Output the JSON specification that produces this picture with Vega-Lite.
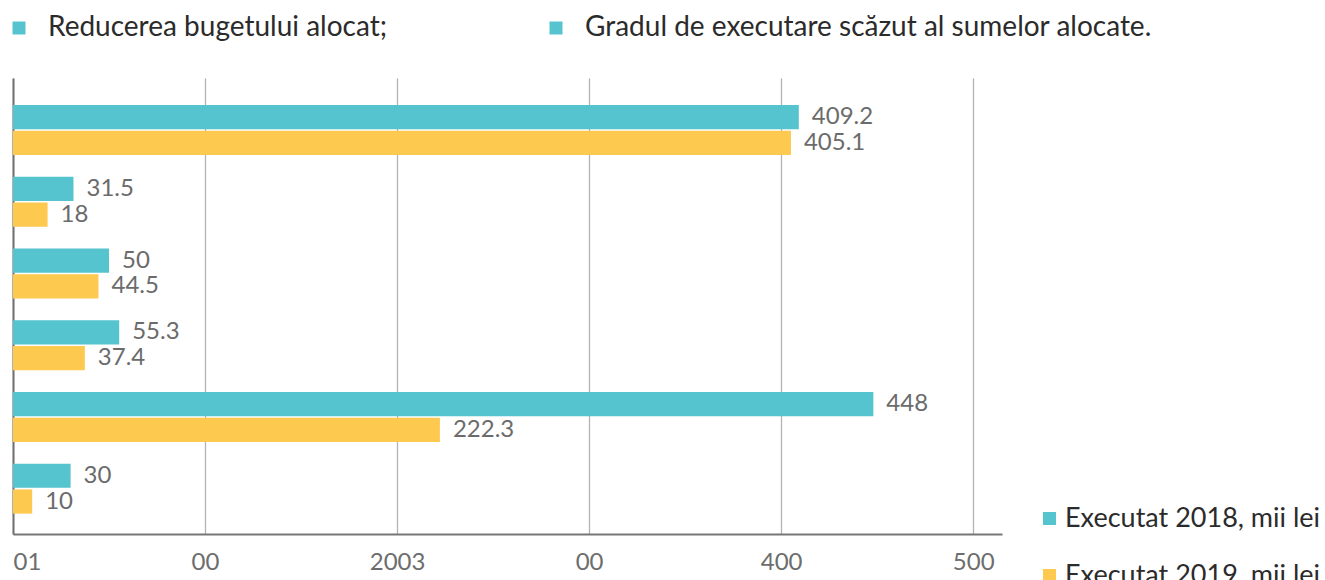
{
  "$schema": "https://vega.github.io/schema/vega-lite/v6.json",
  "width": 989,
  "height": 456,
  "autosize": {"type": "none"},
  "padding": {"left": 13, "top": 78, "right": 323, "bottom": 46},
  "background": "#ffffff",
  "config": {"view": {"stroke": null}, "font": "Lato", "text": {"font": "Lato"}, "legend": {"padding": 0}},
  "datasets": {
    "bare": [
      {"grup": "1", "serie": "Executat 2018, mii lei", "valoare": 409.2},
      {"grup": "1", "serie": "Executat 2019, mii lei", "valoare": 405.1},
      {"grup": "2", "serie": "Executat 2018, mii lei", "valoare": 31.5},
      {"grup": "2", "serie": "Executat 2019, mii lei", "valoare": 18},
      {"grup": "3", "serie": "Executat 2018, mii lei", "valoare": 50},
      {"grup": "3", "serie": "Executat 2019, mii lei", "valoare": 44.5},
      {"grup": "4", "serie": "Executat 2018, mii lei", "valoare": 55.3},
      {"grup": "4", "serie": "Executat 2019, mii lei", "valoare": 37.4},
      {"grup": "5", "serie": "Executat 2018, mii lei", "valoare": 448},
      {"grup": "5", "serie": "Executat 2019, mii lei", "valoare": 222.3},
      {"grup": "6", "serie": "Executat 2018, mii lei", "valoare": 30},
      {"grup": "6", "serie": "Executat 2019, mii lei", "valoare": 10}
    ],
    "note": [
      {"nota": "Reducerea bugetului alocat;"},
      {"nota": "Gradul de executare scăzut al sumelor alocate."}
    ]
  },
  "layer": [
    {
      "data": {"name": "bare"},
      "mark": {"type": "bar"},
      "encoding": {
        "y": {
          "field": "grup", "type": "nominal", "sort": null,
          "scale": {"paddingInner": 0.303, "paddingOuter": 0.33, "align": 0.57},
          "axis": {"labels": false, "ticks": false, "title": null, "grid": false, "domainColor": "#707070", "domainWidth": 2}
        },
        "yOffset": {"field": "serie", "type": "nominal", "sort": null, "scale": {"paddingInner": 0.06}},
        "x": {
          "field": "valoare", "type": "quantitative",
          "scale": {"domain": [0, 515], "nice": false},
          "axis": {
            "values": [0, 100, 200, 300, 400, 500],
            "labelExpr": "datum.value == 0 ? '01' : datum.value == 100 ? '00' : datum.value == 200 ? '2003' : datum.value == 300 ? '00' : datum.label",
            "title": null, "ticks": false,
            "domainColor": "#777777", "domainWidth": 2,
            "grid": true, "gridColor": "#b3b3b3", "gridWidth": 1.3,
            "labelFont": "Lato", "labelFontSize": 24, "labelColor": "#6d6d6d",
            "labelPadding": 16, "labelFlush": true
          }
        },
        "color": {
          "field": "serie", "type": "nominal",
          "scale": {"domain": ["Executat 2018, mii lei", "Executat 2019, mii lei"], "range": ["#55c4cf", "#fdc94f"]},
          "legend": {
            "title": null, "orient": "none", "legendX": 1023, "legendY": 427,
            "symbolType": "square", "symbolSize": 169, "symbolStrokeWidth": 0,
            "labelFont": "Lato", "labelFontSize": 27, "labelColor": "#2b2b2b",
            "labelOffset": 2, "rowPadding": 29, "labelLimit": 400
          }
        }
      }
    },
    {
      "data": {"name": "bare"},
      "mark": {"type": "text", "align": "left", "baseline": "middle", "dx": 13, "fontSize": 24, "color": "#6b6b6b", "font": "Lato"},
      "encoding": {
        "y": {"field": "grup", "type": "nominal", "sort": null},
        "yOffset": {"field": "serie", "type": "nominal", "sort": null},
        "x": {"field": "valoare", "type": "quantitative"},
        "text": {"field": "valoare", "type": "quantitative"}
      }
    },
    {
      "data": {"name": "note"},
      "transform": [{"filter": "datum.nota == null"}],
      "mark": {"type": "point", "shape": "square", "filled": true, "color": "#55c4cf"},
      "encoding": {
        "shape": {
          "field": "nota", "type": "nominal",
          "scale": {"domain": ["Reducerea bugetului alocat;", "Gradul de executare scăzut al sumelor alocate."], "range": ["square", "square"]},
          "legend": {
            "title": null, "orient": "none", "legendX": -8, "legendY": -64,
            "direction": "horizontal", "symbolSize": 169, "symbolFillColor": "#55c4cf", "symbolStrokeWidth": 0, "symbolOpacity": 1,
            "labelFont": "Lato", "labelFontSize": 28, "labelColor": "#2b2b2b",
            "labelOffset": 15, "columnPadding": 154, "labelLimit": 700
          }
        }
      }
    }
  ]
}
